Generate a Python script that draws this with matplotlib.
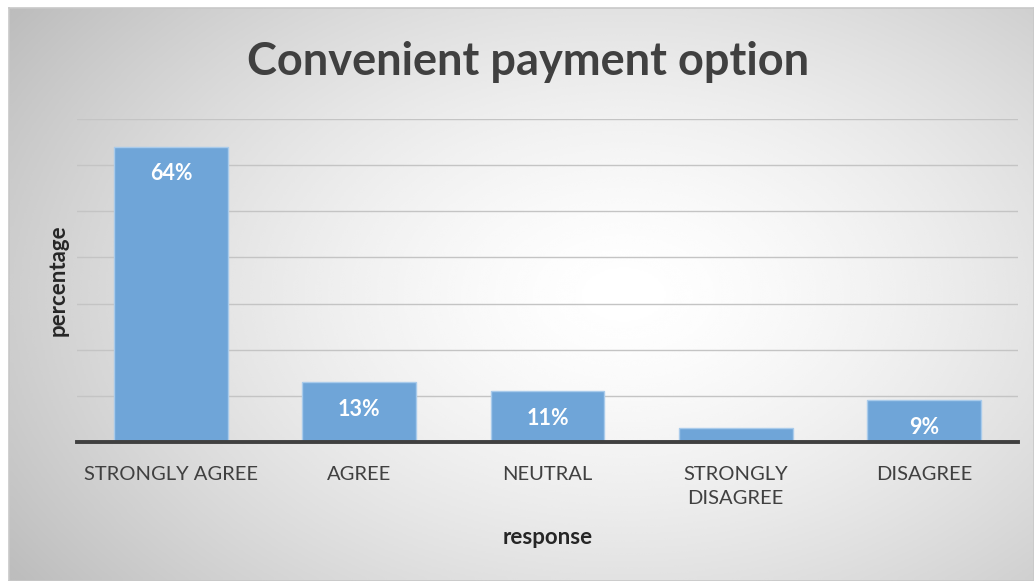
import matplotlib.pyplot as plt
import numpy as np

# Survey responses
categories = ['STRONGLY AGREE', 'AGREE', 'NEUTRAL', 'STRONGLY\nDISAGREE', 'DISAGREE']
percentages = [64, 13, 11, 3, 9]
shown_labels = ['64%', '13%', '11%', '', '9%']

plt.rcParams['font.family'] = ['Lato', 'DejaVu Sans']

W, H = 1034, 581
fig = plt.figure(figsize=(W / 100, H / 100), dpi=100)
fig.patch.set_facecolor('white')

# radial gradient panel behind the chart
bg = fig.add_axes([9 / W, 0, 1 - 9 / W, 1 - 8 / H])
yy, xx = np.mgrid[0:1:300j, 0:1:500j]
dist = np.sqrt(((xx - 0.6) / 0.8) ** 2 + ((yy - 0.5) / 0.95) ** 2)
shade = np.clip(1.0 - 0.3 * dist ** 1.5, 0.74, 1.0)
bg.imshow(shade, cmap='gray', vmin=0, vmax=1, aspect='auto', extent=[0, 1, 0, 1],
          interpolation='bicubic')
bg.set_xticks([])
bg.set_yticks([])
for s in bg.spines.values():
    s.set_color('#c8c8c8')
    s.set_linewidth(1.2)

ax = fig.add_axes([77 / W, 1 - 442 / H, (1018 - 77) / W, (442 - 119) / H])
ax.patch.set_alpha(0)
x = np.arange(len(categories))
bars = ax.bar(x, percentages, width=0.605, color='#6fa5d8', edgecolor='#a9cbeb',
              linewidth=1.0, zorder=3)

ax.set_xlim(-0.5, len(categories) - 0.5)
ax.set_ylim(0, 70)
ax.set_yticks(np.arange(10, 71, 10))
ax.yaxis.grid(True, color='#c4c4c4', linewidth=1.0, zorder=0)
ax.tick_params(axis='y', left=False, labelleft=False)
ax.tick_params(axis='x', bottom=False, labelsize=14.5, labelcolor='#404040', pad=14)
ax.set_xticks(x)
ax.set_xticklabels(categories, linespacing=1.5)
for side in ['top', 'right', 'left']:
    ax.spines[side].set_visible(False)
ax.spines['bottom'].set_color('#404040')
ax.spines['bottom'].set_linewidth(2.8)
ax.spines['bottom'].set_zorder(4)

for b, lab in zip(bars, shown_labels):
    if lab:
        ax.annotate(lab, (b.get_x() + b.get_width() / 2, b.get_height()),
                    xytext=(0, -12), textcoords='offset points', ha='center', va='top',
                    color='white', fontsize=15.5, fontweight='bold', zorder=5)

ax.set_xlabel('response', fontsize=16, fontweight='bold', color='#262626', labelpad=14)
ax.set_ylabel('percentage', fontsize=16, fontweight='bold', color='#262626', labelpad=6)
fig.text(528 / W, 1 - 62 / H, 'Convenient payment option', ha='center', va='center',
         fontsize=32.5, fontweight='bold', color='#404040')

fig.savefig('out.png', dpi=100)
